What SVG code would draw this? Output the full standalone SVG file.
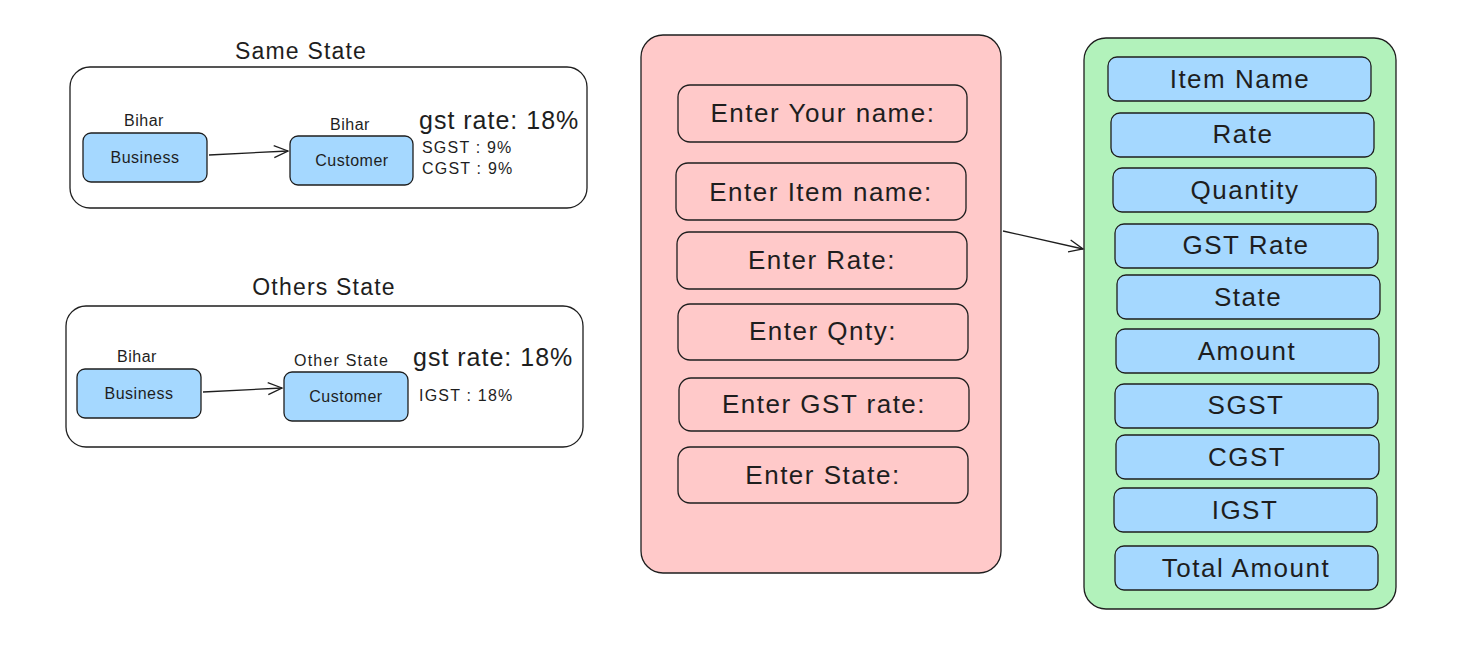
<svg xmlns="http://www.w3.org/2000/svg" width="1484" height="671" viewBox="0 0 1484 671">
<style>
.box{stroke:#1e1e1e;stroke-width:1.3;}
.frame{fill:#ffffff;stroke:#1e1e1e;stroke-width:1.3;}
.blue{fill:#a5d8ff;}
.pink{fill:#ffc9c9;}
.green{fill:#b2f2bb;}
.t{font-family:"Liberation Sans","DejaVu Sans",sans-serif;fill:#1e1e1e;}
.big{font-size:26px;letter-spacing:1.5px;text-anchor:middle;dominant-baseline:central;}
.title{font-size:23px;letter-spacing:1.2px;text-anchor:middle;}
.sm{font-size:16px;letter-spacing:0.5px;}
.pct{font-size:16px;letter-spacing:1.2px;}
.smc{font-size:16px;letter-spacing:0.5px;text-anchor:middle;dominant-baseline:central;}
.rate{font-size:25px;letter-spacing:1px;}
.con{fill:none;stroke:#1e1e1e;stroke-width:1.3;}
</style>
<defs>
<marker id="arr" markerWidth="20" markerHeight="20" refX="16" refY="8" orient="auto" markerUnits="userSpaceOnUse">
<path d="M2,2 L16,8 L2,14" fill="none" stroke="#1e1e1e" stroke-width="1.3"/>
</marker>
</defs>
<rect width="1484" height="671" fill="#ffffff"/>

<g id="same-state">
<text class="t title" x="301" y="59">Same State</text>
<rect class="frame" x="70" y="67" width="517" height="141" rx="20"/>
<text class="t sm" x="124" y="126">Bihar</text>
<text class="t sm" x="330" y="130">Bihar</text>
<text class="t rate" x="419" y="129">gst rate: 18%</text>
<text class="t pct" x="422" y="153">SGST : 9%</text>
<text class="t pct" x="422" y="174">CGST : 9%</text>
</g>
<g id="same-business">
<rect class="box blue" x="83" y="133" width="124" height="49" rx="8"/>
<text class="t smc" x="145" y="157">Business</text>
</g>
<g id="same-customer">
<rect class="box blue" x="290" y="136" width="123" height="49" rx="8"/>
<text class="t smc" x="352" y="160">Customer</text>
</g>

<g id="others-state">
<text class="t title" x="324" y="295">Others State</text>
<rect class="frame" x="66" y="306" width="517" height="141" rx="20"/>
<text class="t sm" x="117" y="362">Bihar</text>
<text class="t pct" x="294" y="366">Other State</text>
<text class="t rate" x="413" y="366">gst rate: 18%</text>
<text class="t pct" x="419" y="401">IGST : 18%</text>
</g>
<g id="others-business">
<rect class="box blue" x="77" y="369" width="124" height="49" rx="8"/>
<text class="t smc" x="139" y="393">Business</text>
</g>
<g id="others-customer">
<rect class="box blue" x="284" y="372" width="124" height="49" rx="8"/>
<text class="t smc" x="346" y="396">Customer</text>
</g>

<g id="input-form">
<rect class="box pink" x="641" y="35" width="360" height="538" rx="22"/>
</g>
<g id="in-name"><rect class="box pink" x="678" y="85" width="289" height="57" rx="12"/><text class="t big" x="823" y="113">Enter Your name:</text></g>
<g id="in-item"><rect class="box pink" x="676" y="163" width="290" height="57" rx="12"/><text class="t big" x="821" y="192">Enter Item name:</text></g>
<g id="in-rate"><rect class="box pink" x="677" y="232" width="290" height="57" rx="12"/><text class="t big" x="822" y="260">Enter Rate:</text></g>
<g id="in-qnty"><rect class="box pink" x="678" y="304" width="290" height="56" rx="12"/><text class="t big" x="823" y="331">Enter Qnty:</text></g>
<g id="in-gst"><rect class="box pink" x="679" y="378" width="290" height="53" rx="12"/><text class="t big" x="824" y="404">Enter GST rate:</text></g>
<g id="in-state"><rect class="box pink" x="678" y="447" width="290" height="56" rx="12"/><text class="t big" x="823" y="475">Enter State:</text></g>

<g id="output">
<rect class="box green" x="1084" y="38" width="312" height="571" rx="22"/>
</g>
<g id="out-item"><rect class="box blue" x="1108" y="57" width="263" height="44" rx="9"/><text class="t big" x="1240" y="79">Item Name</text></g>
<g id="out-rate"><rect class="box blue" x="1111" y="113" width="263" height="44" rx="9"/><text class="t big" x="1243" y="134">Rate</text></g>
<g id="out-qty"><rect class="box blue" x="1113" y="168" width="263" height="44" rx="9"/><text class="t big" x="1245" y="190">Quantity</text></g>
<g id="out-gst"><rect class="box blue" x="1115" y="224" width="263" height="44" rx="9"/><text class="t big" x="1246" y="245">GST Rate</text></g>
<g id="out-state"><rect class="box blue" x="1117" y="275" width="263" height="44" rx="9"/><text class="t big" x="1248" y="297">State</text></g>
<g id="out-amount"><rect class="box blue" x="1116" y="329" width="263" height="44" rx="9"/><text class="t big" x="1247" y="351">Amount</text></g>
<g id="out-sgst"><rect class="box blue" x="1115" y="384" width="263" height="44" rx="9"/><text class="t big" x="1246" y="405">SGST</text></g>
<g id="out-cgst"><rect class="box blue" x="1116" y="435" width="263" height="44" rx="9"/><text class="t big" x="1247" y="457">CGST</text></g>
<g id="out-igst"><rect class="box blue" x="1114" y="488" width="263" height="44" rx="9"/><text class="t big" x="1245" y="510">IGST</text></g>
<g id="out-total"><rect class="box blue" x="1115" y="546" width="263" height="44" rx="9"/><text class="t big" x="1246" y="568">Total Amount</text></g>

<g id="connectors">
<line class="con" x1="209" y1="155" x2="288" y2="151" marker-end="url(#arr)"/>
<line class="con" x1="203" y1="392" x2="282" y2="388" marker-end="url(#arr)"/>
<line class="con" x1="1003" y1="231" x2="1083" y2="249" marker-end="url(#arr)"/>
</g>
</svg>
